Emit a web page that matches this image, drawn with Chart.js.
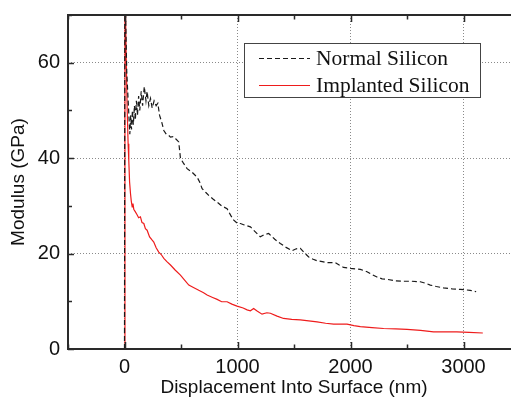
<!DOCTYPE html>
<html>
<head>
<meta charset="utf-8">
<script src="https://cdn.jsdelivr.net/npm/chart.js@4.4.1/dist/chart.umd.min.js"></script>
<style>
  html, body { margin: 0; padding: 0; background: #fff; overflow: hidden; }
  #wrap { width: 522px; height: 401px; }
</style>
</head>
<body>
<div id="wrap"><canvas id="modulus" width="522" height="401"></canvas></div>
<script>
// Modulus vs. displacement curves for normal and implanted silicon

// Normal silicon (dashed black)
const normX = [0, 3, 20, 47, 55, 62, 70, 78, 88, 96, 105, 115, 125, 135, 148, 160, 175, 190, 200, 215,
  230, 245, 262, 280, 295, 310, 330, 348, 370, 390, 407, 430, 455, 480, 495, 520, 554, 600, 643, 665,
  687, 720, 745, 780, 819, 860, 908, 940, 967, 1000, 1026, 1060, 1114, 1160, 1202, 1240, 1276, 1330,
  1379, 1430, 1483, 1520, 1556, 1590, 1630, 1670, 1704, 1750, 1792, 1830, 1866, 1900, 1939, 1998,
  2040, 2087, 2146, 2190, 2234, 2280, 2323, 2400, 2470, 2540, 2617, 2660, 2706, 2760, 2823, 2900,
  2971, 3059, 3112];
const normY = [0, 78, 58, 45, 49, 46, 50, 47, 51, 48, 52, 49, 53, 50, 54, 51, 55, 52, 54, 51,
  52.5, 50.5, 52, 51, 51.5, 49, 47.5, 45.8, 45, 44.8, 44.4, 44.5, 44, 43.4, 40, 39, 37.8, 37, 36, 35,
  33.6, 32.8, 32.2, 31.5, 30.8, 30, 29.4, 28, 27, 26.3, 26.3, 26, 25.6, 24.5, 23.5, 24, 24.2, 23,
  22.1, 21.3, 20.6, 21, 21.1, 20.2, 19.3, 18.8, 18.5, 18.3, 18.1, 18.1, 18.1, 17.6, 17.1, 16.9,
  16.8, 16.7, 16.2, 15.6, 15.1, 14.7, 14.6, 14.3, 14.2, 14.2, 14.1, 13.8, 13.4, 13.1, 12.8, 12.6,
  12.5, 12.3, 12.0];

// Implanted silicon (solid red)
const implX = [0, 4, 15, 24, 32, 38, 45, 53, 60, 68, 75, 82, 95, 110, 125, 141, 155, 171, 185, 200,
  222, 245, 259, 280, 303, 325, 348, 375, 407, 450, 495, 530, 569, 610, 657, 700, 731, 780, 820, 860,
  908, 950, 996, 1050, 1085, 1114, 1143, 1170, 1217, 1260, 1291, 1350, 1408, 1480, 1556, 1630, 1704,
  1780, 1851, 1920, 1969, 2030, 2087, 2190, 2293, 2400, 2500, 2620, 2735, 2840, 2941, 3050, 3171];
const implY = [0, 78, 61, 50, 43, 39.5, 35, 32.6, 31, 29.8, 30.5, 29.3, 28.8, 28.2, 27.5, 27.7, 26.5,
  26.3, 25.2, 24.9, 23.5, 22.8, 22.4, 21.2, 20.3, 19.8, 19, 18.3, 17.6, 16.5, 15.5, 14.5, 13.4, 12.9,
  12.3, 11.8, 11.3, 10.8, 10.4, 9.9, 9.9, 9.4, 9.0, 8.6, 8.2, 8.0, 8.5, 8.0, 7.3, 7.6, 7.5, 6.9, 6.4,
  6.2, 6.1, 5.9, 5.7, 5.4, 5.2, 5.2, 5.2, 4.9, 4.7, 4.5, 4.3, 4.2, 4.1, 3.9, 3.6, 3.6, 3.6, 3.5, 3.35];

const xTickLabels = [0, 1000, 2000, 3000];
const yTickLabels = [0, 20, 40, 60];

const toPoints = (xs, ys) => xs.map((x, i) => ({ x, y: ys[i] }));

const sansFont = 'Liberation Sans, Arial, sans-serif';
const serifFont = 'Liberation Serif, Times New Roman, serif';
const gridGrey = '#8a8a8a';

// box around the plot with inward ticks on every side
const framePlugin = {
  id: 'frame',
  afterDatasetsDraw(chart) {
    const { ctx, chartArea: a, scales } = chart;
    ctx.save();
    ctx.strokeStyle = '#2a2a2a';
    ctx.lineWidth = 1.5;
    ctx.beginPath();
    scales.x.ticks.forEach(t => {
      const px = Math.round(scales.x.getPixelForValue(t.value)) + 0.5;
      const len = t.value % 1000 === 0 ? 7 : 4.5;
      ctx.moveTo(px, a.bottom); ctx.lineTo(px, a.bottom - len);
      ctx.moveTo(px, a.top); ctx.lineTo(px, a.top + len);
    });
    scales.y.ticks.forEach(t => {
      const py = Math.round(scales.y.getPixelForValue(t.value)) + 0.5;
      const len = t.value % 20 === 0 ? 6 : 4;
      ctx.moveTo(a.left, py); ctx.lineTo(a.left + len, py);
      ctx.moveTo(a.right, py); ctx.lineTo(a.right - len, py);
    });
    ctx.stroke();
    ctx.lineWidth = 2;
    ctx.strokeRect(a.left, a.top, a.right - a.left, a.bottom - a.top);
    ctx.restore();
  }
};

// boxed legend in the upper right of the plot
const boxLegend = {
  id: 'boxLegend',
  afterDraw(chart) {
    const { ctx } = chart;
    const box = { x: 244.5, y: 43.5, w: 236, h: 54 };
    ctx.save();
    ctx.fillStyle = '#fff';
    ctx.fillRect(box.x, box.y, box.w, box.h);
    ctx.strokeStyle = '#444';
    ctx.lineWidth = 1;
    ctx.strokeRect(box.x, box.y, box.w, box.h);
    ctx.font = '21.5px ' + serifFont;
    ctx.textBaseline = 'alphabetic';
    chart.data.datasets.forEach((ds, i) => {
      const y = 58 + i * 27;
      ctx.strokeStyle = ds.borderColor;
      ctx.lineWidth = 1.2;
      ctx.setLineDash(ds.borderDash || []);
      ctx.beginPath();
      ctx.moveTo(259, y + 0.5);
      ctx.lineTo(310, y + 0.5);
      ctx.stroke();
      ctx.setLineDash([]);
      ctx.fillStyle = '#111';
      ctx.fillText(ds.label, 316, y + 7);
    });
    ctx.restore();
  }
};

new Chart(document.getElementById('modulus'), {
  type: 'line',
  data: {
    datasets: [
      {
        label: 'Normal Silicon',
        data: toPoints(normX, normY),
        borderColor: '#1a1a1a',
        borderWidth: 1.2,
        borderDash: [5, 3],
        pointRadius: 0,
        tension: 0
      },
      {
        label: 'Implanted Silicon',
        data: toPoints(implX, implY),
        borderColor: '#ee1c1c',
        borderWidth: 1.2,
        pointRadius: 0,
        tension: 0
      }
    ]
  },
  options: {
    responsive: false,
    animation: false,
    layout: { padding: { top: 15, right: 2, left: 0, bottom: 0 } },
    plugins: {
      legend: { display: false },
      tooltip: { enabled: false }
    },
    scales: {
      x: {
        type: 'linear',
        min: -500,
        max: 3500,
        afterFit: s => { s.height = 52; s.paddingLeft = 0; s.paddingRight = 0; },
        ticks: {
          stepSize: 500,
          autoSkip: false,
          maxRotation: 0,
          padding: 6,
          color: '#111',
          font: { family: sansFont, size: 20 },
          callback: v => (xTickLabels.includes(v) ? String(v) : '')
        },
        grid: {
          drawTicks: false,
          lineWidth: 1,
          color: c => (c.tick && xTickLabels.includes(c.tick.value) ? gridGrey : 'rgba(0,0,0,0)')
        },
        border: { display: false, dash: [1, 2] },
        title: {
          display: true,
          text: 'Displacement Into Surface (nm)',
          color: '#111',
          font: { family: sansFont, size: 19 },
          padding: { top: 0, bottom: 2 }
        }
      },
      y: {
        min: 0,
        max: 70,
        afterFit: s => { s.width = 68; s.paddingTop = 0; s.paddingBottom = 0; },
        ticks: {
          stepSize: 10,
          padding: 8,
          color: '#111',
          font: { family: sansFont, size: 20 },
          callback: v => (yTickLabels.includes(v) ? String(v) : '')
        },
        grid: {
          drawTicks: false,
          lineWidth: 1,
          color: c => (c.tick && yTickLabels.includes(c.tick.value) && c.tick.value > 0 ? gridGrey : 'rgba(0,0,0,0)')
        },
        border: { display: false, dash: [1, 2] },
        title: {
          display: true,
          text: 'Modulus (GPa)',
          color: '#111',
          font: { family: sansFont, size: 19 },
          padding: { top: 7, bottom: 0 }
        }
      }
    }
  },
  plugins: [framePlugin, boxLegend]
});
</script>
</body>
</html>
